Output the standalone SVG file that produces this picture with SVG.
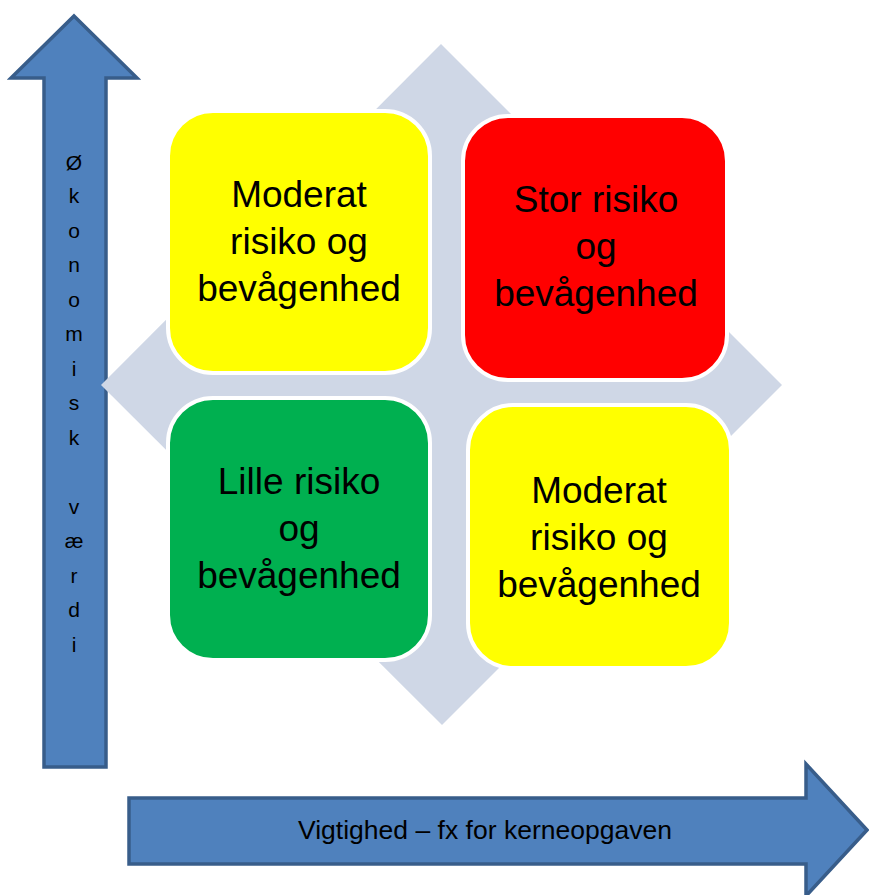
<svg xmlns="http://www.w3.org/2000/svg" width="869" height="895" viewBox="0 0 869 895">
<style>
.arrow{fill:#4F81BD;stroke:#385D8A;stroke-width:3.5;stroke-linejoin:miter}
.box{stroke:#FFFFFF;stroke-width:4}
.bt{font-family:"Liberation Sans",Arial,sans-serif;font-size:37px;fill:#000;text-anchor:middle}
.vt{font-family:"Liberation Sans",Arial,sans-serif;font-size:21px;fill:#000;text-anchor:middle}
.ht{font-family:"Liberation Sans",Arial,sans-serif;font-size:25px;fill:#000;text-anchor:middle}
</style>
<rect width="869" height="895" fill="#FFFFFF"/>
<g id="axes">
<g id="y-axis">
<path class="arrow" d="M74,16 L137,78 L106,78 L106,767 L44,767 L44,78 L11,78 Z"/>
<text class="vt" x="74"><tspan x="74" y="170">Ø</tspan><tspan x="74" y="203">k</tspan><tspan x="74" y="238">o</tspan><tspan x="74" y="272">n</tspan><tspan x="74" y="307">o</tspan><tspan x="74" y="341">m</tspan><tspan x="74" y="376">i</tspan><tspan x="74" y="410">s</tspan><tspan x="74" y="445">k</tspan><tspan x="74" y="514">v</tspan><tspan x="74" y="548">æ</tspan><tspan x="74" y="583">r</tspan><tspan x="74" y="617">d</tspan><tspan x="74" y="652">i</tspan></text>
</g>
<g id="x-axis">
<path class="arrow" d="M129,798 L806,798 L806,764 L867,830 L806,896 L806,864 L129,864 Z"/>
<text class="ht" x="485" y="839" textLength="374" lengthAdjust="spacingAndGlyphs">Vigtighed – fx for kerneopgaven</text>
</g>
</g>
<g id="background-diamond">
<polygon points="441,44 782,385 442,725 101,385" fill="#CFD7E6"/>
</g>
<g id="box-top-left">
<rect class="box" x="168" y="111" width="262" height="262" rx="45" fill="#FFFF00"/>
<text class="bt"><tspan x="299" y="207">Moderat</tspan><tspan x="299" y="254">risiko og</tspan><tspan x="299" y="301">bevågenhed</tspan></text>
</g>
<g id="box-top-right">
<rect class="box" x="463" y="116" width="264" height="264" rx="45" fill="#FF0000"/>
<text class="bt"><tspan x="596" y="212">Stor risiko</tspan><tspan x="596" y="259">og</tspan><tspan x="596" y="306">bevågenhed</tspan></text>
</g>
<g id="box-bottom-left">
<rect class="box" x="168" y="398" width="262" height="262" rx="45" fill="#00B050"/>
<text class="bt"><tspan x="299" y="494">Lille risiko</tspan><tspan x="299" y="541">og</tspan><tspan x="299" y="588">bevågenhed</tspan></text>
</g>
<g id="box-bottom-right">
<rect class="box" x="468" y="405" width="263" height="263" rx="45" fill="#FFFF00"/>
<text class="bt"><tspan x="599" y="503">Moderat</tspan><tspan x="599" y="550">risiko og</tspan><tspan x="599" y="597">bevågenhed</tspan></text>
</g>
<g id="connectors"></g>
</svg>
